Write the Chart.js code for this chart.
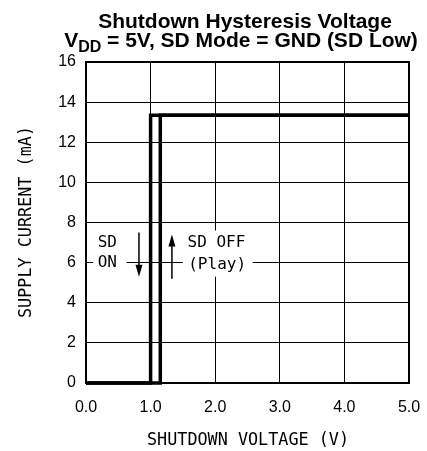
<!DOCTYPE html>
<html>
<head>
<meta charset="utf-8">
<script src="https://cdn.jsdelivr.net/npm/chart.js@4"></script>
<style>
  html, body { margin: 0; padding: 0; background: #fff; }
  #wrap { width: 427px; height: 451px; }
</style>
</head>
<body>
<div id="wrap"><canvas id="chart" width="427" height="451"></canvas></div>
<script>
// step curves
const offVoltage = [0, 1.15, 1.15, 5];
const offCurrent = [0, 0, 13.35, 13.35];
const onVoltage = [5, 1.0, 1.0, 0];
const onCurrent = [13.35, 13.35, 0, 0];
const xTicks = [0, 1, 2, 3, 4, 5];
const yTicks = [0, 2, 4, 6, 8, 10, 12, 14, 16];

function toPoints(xs, ys) {
    return xs.map((x, i) => ({ x: x, y: ys[i] }));
}

const mono = '"DejaVu Sans Mono", monospace';
const sans = '"Liberation Sans", Arial, sans-serif';

// titles, labels and the little SD ON / SD OFF notes
const decorPlugin = {
    id: 'decor',
    beforeDraw(chart) {
        const ctx = chart.ctx;
        ctx.save();
        ctx.fillStyle = '#fff';
        ctx.fillRect(0, 0, chart.width, chart.height);
        ctx.restore();
    },
    beforeDatasetsDraw(chart) {
        const ctx = chart.ctx;
        const xs = chart.scales.x, ys = chart.scales.y;
        const px = v => xs.getPixelForValue(v);
        const py = v => ys.getPixelForValue(v);
        ctx.save();
        // white boxes knock out the grid behind the notes
        ctx.fillStyle = '#fff';
        ctx.fillRect(px(0.11), py(7.6), px(0.63) - px(0.11), py(5.3) - py(7.6));
        ctx.fillRect(px(1.5), py(7.6), px(2.58) - px(1.5), py(5.3) - py(7.6));

        ctx.fillStyle = '#000';
        ctx.font = '16px ' + mono;
        ctx.textAlign = 'center';
        ctx.textBaseline = 'middle';
        ctx.fillText('SD', px(0.33), py(7.0));
        ctx.fillText('ON', px(0.33), py(6.0));
        ctx.fillText('SD OFF', px(2.02), py(7.0));
        ctx.fillText('(Play)', px(2.03), py(5.88));

        // arrows
        ctx.strokeStyle = '#000';
        ctx.lineWidth = 1.5;
        const down = px(0.82), up = px(1.33);
        ctx.beginPath();
        ctx.moveTo(down, py(7.5));
        ctx.lineTo(down, py(5.5));
        ctx.moveTo(up, py(5.2));
        ctx.lineTo(up, py(7.2));
        ctx.stroke();
        ctx.beginPath();
        ctx.moveTo(down - 3.5, py(5.9));
        ctx.lineTo(down + 3.5, py(5.9));
        ctx.lineTo(down, py(5.3));
        ctx.closePath();
        ctx.moveTo(up - 3.5, py(6.8));
        ctx.lineTo(up + 3.5, py(6.8));
        ctx.lineTo(up, py(7.4));
        ctx.closePath();
        ctx.fill();
        ctx.restore();
    },
    afterDraw(chart) {
        const ctx = chart.ctx;
        const a = chart.chartArea;
        ctx.save();
        ctx.strokeStyle = '#000';
        ctx.lineWidth = 2;
        ctx.strokeRect(a.left, a.top, a.right - a.left, a.bottom - a.top);

        ctx.fillStyle = '#000';
        ctx.textBaseline = 'alphabetic';
        // title line 1
        ctx.font = 'bold 21px ' + sans;
        ctx.textAlign = 'center';
        ctx.fillText('Shutdown Hysteresis Voltage', 245, 28);
        // title line 2 with subscript
        ctx.textAlign = 'left';
        const big = 'bold 21px ' + sans, small = 'bold 16px ' + sans;
        const rest = ' = 5V, SD Mode = GND (SD Low)';
        ctx.font = big;
        const wV = ctx.measureText('V').width;
        const wRest = ctx.measureText(rest).width;
        ctx.font = small;
        const wDD = ctx.measureText('DD').width;
        let x0 = 241 - (wV + wDD + wRest) / 2;
        ctx.font = big;
        ctx.fillText('V', x0, 47);
        ctx.font = small;
        ctx.fillText('DD', x0 + wV, 52);
        ctx.font = big;
        ctx.fillText(rest, x0 + wV + wDD, 47);

        // axis titles
        ctx.font = '16.8px ' + mono;
        ctx.textAlign = 'center';
        ctx.textBaseline = 'middle';
        ctx.fillText('SHUTDOWN VOLTAGE (V)', 248, 441);
        ctx.translate(27, 222);
        ctx.rotate(-Math.PI / 2);
        ctx.fillText('SUPPLY CURRENT (mA)', 0, 0);
        ctx.restore();
    }
};

new Chart(document.getElementById('chart'), {
    type: 'scatter',
    data: {
        datasets: [{
            label: 'SD OFF',
            data: toPoints(offVoltage, offCurrent),
            showLine: true,
            borderColor: '#000',
            borderWidth: 3.5,
            pointRadius: 0,
            tension: 0,
            clip: 4
        }, {
            label: 'SD ON',
            data: toPoints(onVoltage, onCurrent),
            showLine: true,
            borderColor: '#000',
            borderWidth: 3.5,
            pointRadius: 0,
            tension: 0,
            clip: 4
        }]
    },
    options: {
        responsive: false,
        animation: false,
        layout: { padding: { top: 62, right: 18, left: 0, bottom: 0 } },
        plugins: {
            legend: { display: false },
            tooltip: { enabled: false },
            title: { display: false }
        },
        scales: {
            x: {
                type: 'linear',
                min: 0,
                max: 5,
                afterBuildTicks: s => { s.ticks = xTicks.map(v => ({ value: v })); },
                afterFit: s => { s.height = 68; s.paddingLeft = 0; s.paddingRight = 0; },
                ticks: {
                    color: '#000',
                    font: { family: sans, size: 16 },
                    padding: 15,
                    maxRotation: 0,
                    callback: v => Number(v).toFixed(1)
                },
                grid: { color: '#000', lineWidth: 1, drawTicks: false },
                border: { color: '#000', width: 2 }
            },
            y: {
                type: 'linear',
                min: 0,
                max: 16,
                afterBuildTicks: s => { s.ticks = yTicks.map(v => ({ value: v })); },
                afterFit: s => { s.width = 86; s.paddingTop = 0; s.paddingBottom = 0; },
                ticks: {
                    color: '#000',
                    font: { family: sans, size: 16 },
                    padding: 10
                },
                grid: { color: '#000', lineWidth: 1, drawTicks: false },
                border: { color: '#000', width: 2 }
            }
        }
    },
    plugins: [decorPlugin]
});
</script>
</body>
</html>
